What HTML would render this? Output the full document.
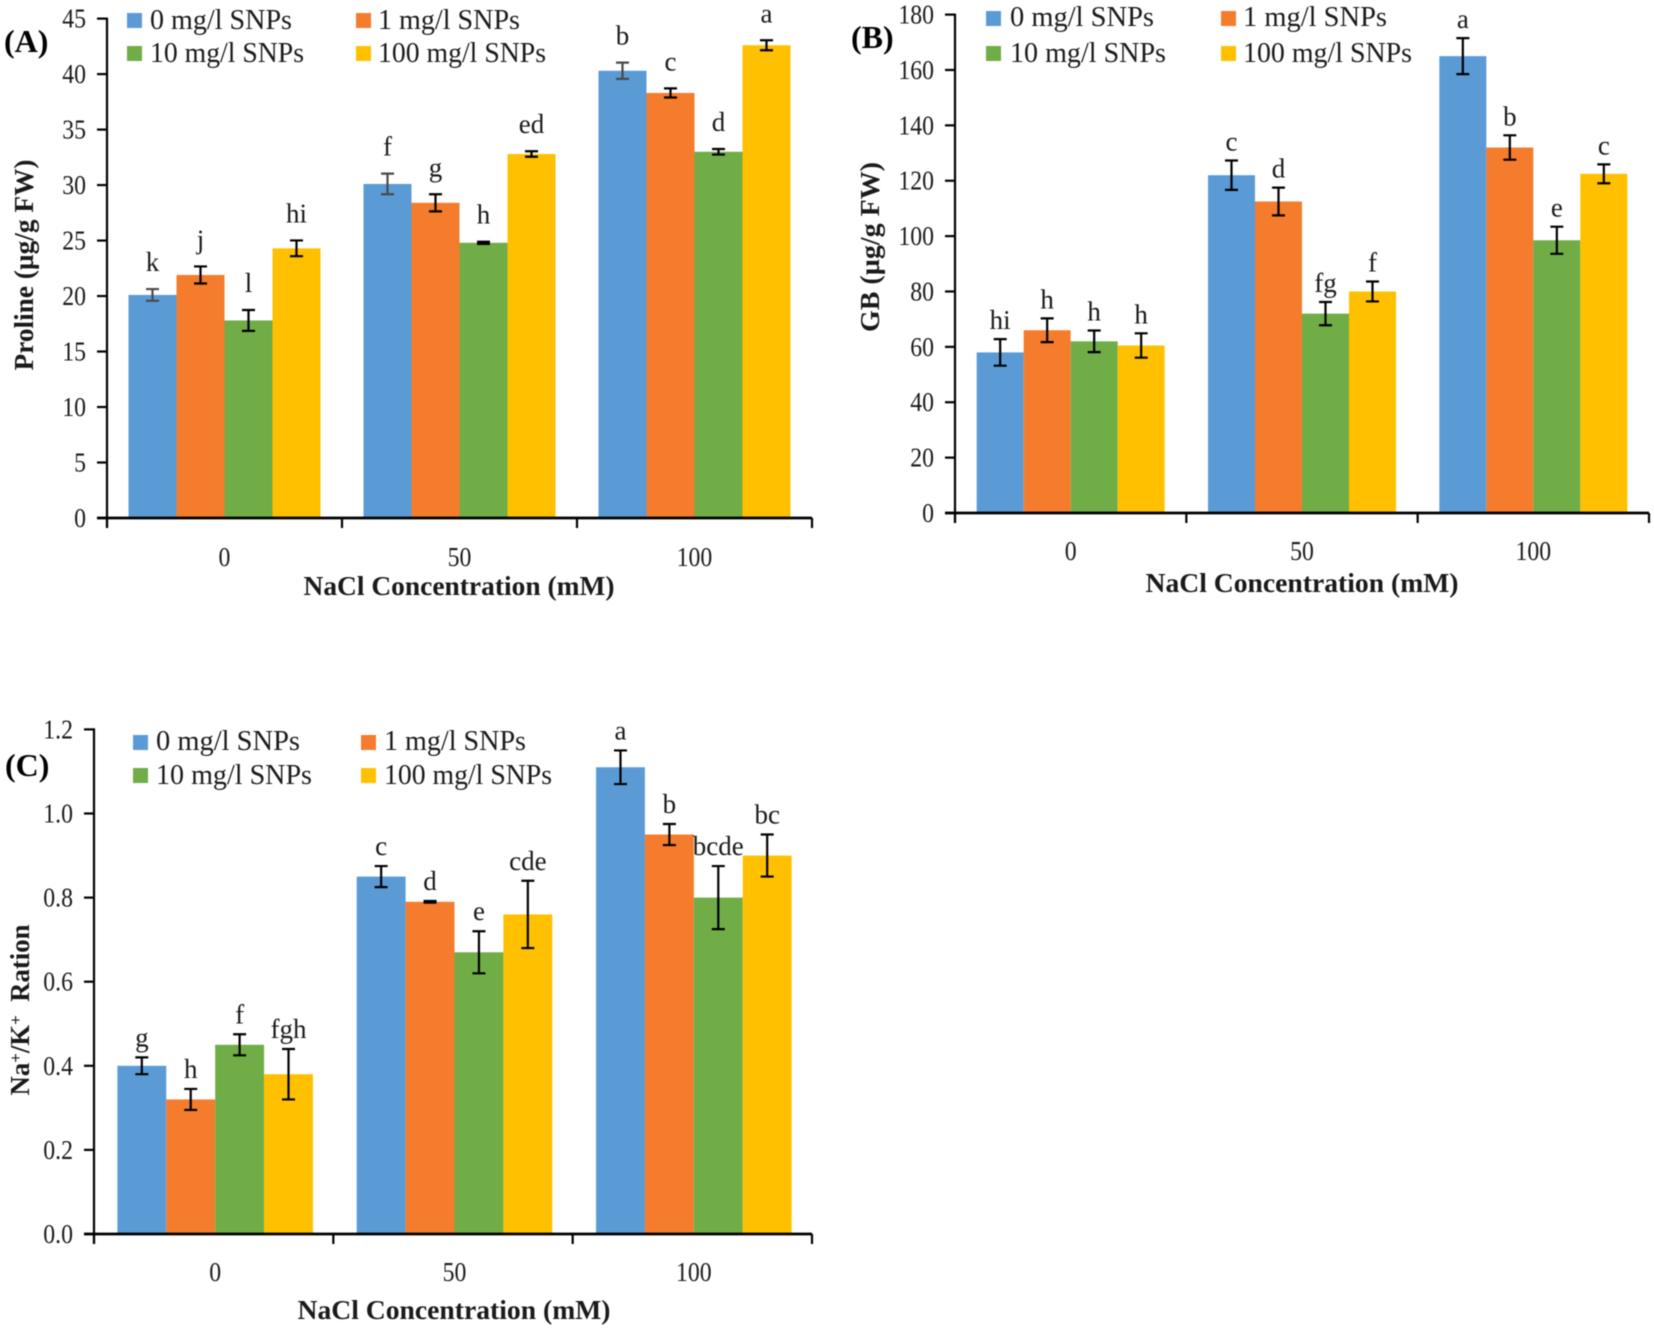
<!DOCTYPE html>
<html lang="en">
<head>
<meta charset="utf-8">
<title>Proline, GB and Na+/K+ ratio charts</title>
<style>
html,body{margin:0;padding:0;background:#fff;}
svg{display:block;filter:blur(0.45px);}
text{font-family:"Liberation Serif",serif;fill:#1a1a1a;}
.legend{font-size:29px;}
.title{font-size:27px;font-weight:bold;}
.panel{font-size:32px;font-weight:bold;fill:#000;}
.tick{font-size:27px;}
.letter{font-size:27px;}
</style>
</head>
<body>
<svg id="chart" xmlns="http://www.w3.org/2000/svg" width="1654" height="1332" viewBox="0 0 1654 1332">
  <g id="panel-a">
    <text class="panel" x="4" y="52">(A)</text>
    <text class="title" x="459" y="595" text-anchor="middle" textLength="311" lengthAdjust="spacingAndGlyphs">NaCl Concentration (mM)</text>
    <text class="title" transform="translate(33 265) rotate(-90)" text-anchor="middle" textLength="211" lengthAdjust="spacingAndGlyphs">Proline (µg/g FW)</text>
    <g>
      <rect x="127" y="13" width="15" height="15" fill="#5B9BD5"/>
      <text class="legend" x="150" y="29" textLength="142" lengthAdjust="spacingAndGlyphs">0 mg/l SNPs</text>
      <rect x="356" y="13" width="15" height="15" fill="#F47C2C"/>
      <text class="legend" x="378" y="29" textLength="142" lengthAdjust="spacingAndGlyphs">1 mg/l SNPs</text>
      <rect x="127" y="46" width="15" height="15" fill="#70AD47"/>
      <text class="legend" x="150" y="62" textLength="154" lengthAdjust="spacingAndGlyphs">10 mg/l SNPs</text>
      <rect x="356" y="46" width="15" height="15" fill="#FFC000"/>
      <text class="legend" x="378" y="62" textLength="168" lengthAdjust="spacingAndGlyphs">100 mg/l SNPs</text>
    </g>
  </g>
  <g id="panel-b">
    <text class="panel" x="851" y="48">(B)</text>
    <text class="title" x="1302" y="592" text-anchor="middle" textLength="313" lengthAdjust="spacingAndGlyphs">NaCl Concentration (mM)</text>
    <text class="title" transform="translate(879 247) rotate(-90)" text-anchor="middle" textLength="170" lengthAdjust="spacingAndGlyphs">GB (µg/g FW)</text>
    <g>
      <rect x="986" y="11" width="15" height="15" fill="#5B9BD5"/>
      <text class="legend" x="1010" y="26" textLength="144" lengthAdjust="spacingAndGlyphs">0 mg/l SNPs</text>
      <rect x="1221" y="11" width="15" height="15" fill="#F47C2C"/>
      <text class="legend" x="1243" y="26" textLength="144" lengthAdjust="spacingAndGlyphs">1 mg/l SNPs</text>
      <rect x="986" y="46" width="15" height="15" fill="#70AD47"/>
      <text class="legend" x="1010" y="62" textLength="156" lengthAdjust="spacingAndGlyphs">10 mg/l SNPs</text>
      <rect x="1221" y="46" width="15" height="15" fill="#FFC000"/>
      <text class="legend" x="1243" y="62" textLength="169" lengthAdjust="spacingAndGlyphs">100 mg/l SNPs</text>
    </g>
  </g>
  <g id="panel-c">
    <text class="panel" x="5" y="776">(C)</text>
    <text class="title" x="454" y="1319" text-anchor="middle" textLength="313" lengthAdjust="spacingAndGlyphs">NaCl Concentration (mM)</text>
    <text class="title" transform="translate(29 1010) rotate(-90)" text-anchor="middle" textLength="171" lengthAdjust="spacingAndGlyphs">Na<tspan dy="-8" font-size="17">+</tspan><tspan dy="8">/K</tspan><tspan dy="-8" font-size="17">+</tspan><tspan dy="8" xml:space="preserve">  Ration</tspan></text>
    <g>
      <rect x="133" y="735" width="15" height="15" fill="#5B9BD5"/>
      <text class="legend" x="156" y="750" textLength="144" lengthAdjust="spacingAndGlyphs">0 mg/l SNPs</text>
      <rect x="361" y="735" width="15" height="15" fill="#F47C2C"/>
      <text class="legend" x="384" y="750" textLength="142" lengthAdjust="spacingAndGlyphs">1 mg/l SNPs</text>
      <rect x="133" y="768" width="15" height="15" fill="#70AD47"/>
      <text class="legend" x="156" y="784" textLength="156" lengthAdjust="spacingAndGlyphs">10 mg/l SNPs</text>
      <rect x="361" y="768" width="15" height="15" fill="#FFC000"/>
      <text class="legend" x="384" y="784" textLength="168" lengthAdjust="spacingAndGlyphs">100 mg/l SNPs</text>
    </g>
  </g>
</svg>
<script>
var categories = ['0', '50', '100'];
var seriesColors = ['#5B9BD5', '#F47C2C', '#70AD47', '#FFC000'];

var prolineBlue = [20.1, 30.1, 40.3];
var prolineOrange = [21.9, 28.4, 38.3];
var prolineGreen = [17.8, 24.8, 33.0];
var prolineYellow = [24.3, 32.8, 42.6];
var prolineBlueErr = [0.53, 0.93, 0.73];
var prolineOrangeErr = [0.77, 0.77, 0.41];
var prolineGreenErr = [0.94, 0.1, 0.25];
var prolineYellowErr = [0.71, 0.25, 0.45];
var prolineLetters = [['k', 'f', 'b'], ['j', 'g', 'c'], ['l', 'h', 'd'], ['hi', 'ed', 'a']];
var prolineTicks = ['0', '5', '10', '15', '20', '25', '30', '35', '40', '45'];

var gbBlue = [58, 122, 165];
var gbOrange = [66, 112.5, 132];
var gbGreen = [62, 72, 98.5];
var gbYellow = [60.5, 80, 122.5];
var gbBlueErr = [4.8, 5.3, 6.5];
var gbOrangeErr = [4.3, 5.0, 4.4];
var gbGreenErr = [3.9, 4.2, 4.9];
var gbYellowErr = [4.4, 3.6, 3.4];
var gbLetters = [['hi', 'c', 'a'], ['h', 'd', 'b'], ['h', 'fg', 'e'], ['h', 'f', 'c']];
var gbTicks = ['0', '20', '40', '60', '80', '100', '120', '140', '160', '180'];

var ratioBlue = [0.40, 0.85, 1.11];
var ratioOrange = [0.32, 0.79, 0.95];
var ratioGreen = [0.45, 0.67, 0.80];
var ratioYellow = [0.38, 0.76, 0.90];
var ratioBlueErr = [0.02, 0.025, 0.04];
var ratioOrangeErr = [0.025, 0.002, 0.025];
var ratioGreenErr = [0.025, 0.05, 0.075];
var ratioYellowErr = [0.06, 0.08, 0.05];
var ratioLetters = [['g', 'c', 'a'], ['h', 'd', 'b'], ['f', 'e', 'bcde'], ['fgh', 'cde', 'bc']];
var ratioTicks = ['0.0', '0.2', '0.4', '0.6', '0.8', '1.0', '1.2'];

var NS = 'http://www.w3.org/2000/svg';

function make(tag, attrs, parent) {
  var el = document.createElementNS(NS, tag);
  for (var k in attrs) { el.setAttribute(k, attrs[k]); }
  parent.appendChild(el);
  return el;
}

function squeeze(el, factor) {
  el.setAttribute('textLength', el.getComputedTextLength() * factor);
  el.setAttribute('lengthAdjust', 'spacingAndGlyphs');
}

function drawPanel(root, layout, series, errors, letters, ticks) {
  var yMin = Number(ticks[0]);
  var yMax = Number(ticks[ticks.length - 1]);
  function yScale(v) {
    return layout.y0 + (v - yMin) / (yMax - yMin) * (layout.y1 - layout.y0);
  }
  var catWidth = (layout.x1 - layout.x0) / categories.length;
  var groupWidth = layout.barWidth * series.length;
  function xScale(c, s) {
    return layout.x0 + layout.barShift + catWidth * (c + 0.5) - groupWidth / 2 + layout.barWidth * s;
  }

  series.forEach(function (values, s) {
    values.forEach(function (v, c) {
      var bar = make('rect', {
        x: xScale(c, s), y: yScale(v), width: layout.barWidth, height: layout.y0 - yScale(v), fill: seriesColors[s]
      }, root);
      
      

      var cx = xScale(c, s) + layout.barWidth / 2;
      var top = yScale(v + errors[s][c]);
      var bottom = yScale(v - errors[s][c]);
      var errColor = (layout.grayFirst && s === 0) ? '#4a4a4a' : '#000';
      var err = make('path', {
        d: 'M' + (cx - 6.5) + ' ' + top + 'H' + (cx + 6.5) + 'M' + cx + ' ' + top + 'V' + bottom + 'M' + (cx - 6.5) + ' ' + bottom + 'H' + (cx + 6.5),
        stroke: errColor, 'stroke-width': 2.2, fill: 'none'
      }, root);
      
      

      var letter = make('text', {
        x: cx, y: top - layout.letterGap, 'text-anchor': 'middle', 'class': 'letter'
      }, root);
      letter.textContent = letters[s][c];
      
      
    });
  });

  var yAxis = make('line', { x1: layout.x0, x2: layout.x0, y1: layout.y1 - 1, y2: layout.y0 + 10, stroke: '#000', 'stroke-width': 2.2 }, root);
  
  

  var xAxis = make('line', { x1: layout.x0 - 10, x2: layout.x1, y1: layout.y0, y2: layout.y0, stroke: '#000', 'stroke-width': 2.8 }, root);
  
  

  ticks.forEach(function (t) {
    var y = yScale(Number(t));
    var mark = make('line', { x1: layout.x0 - 10, x2: layout.x0, y1: y, y2: y, stroke: '#000', 'stroke-width': 2.2 }, root);
    
    

    var label = make('text', { x: layout.x0 - 21, y: y + 9, 'text-anchor': 'end', 'class': 'tick' }, root);
    label.textContent = t;
    squeeze(label, 0.88);
    
    
  });

  for (var i = 0; i <= categories.length; i++) {
    var bx = layout.x0 + catWidth * i;
    var sep = make('line', { x1: bx, x2: bx, y1: layout.y0, y2: layout.y0 + 10, stroke: '#000', 'stroke-width': 2.2 }, root);
    
    
  }

  categories.forEach(function (name, c) {
    var label = make('text', { x: layout.x0 + layout.barShift + catWidth * (c + 0.5), y: layout.catBaseline, 'text-anchor': 'middle', 'class': 'tick' }, root);
    label.textContent = name;
    squeeze(label, 0.88);
    
    
  });
}

drawPanel(document.getElementById('panel-a'),
  { x0: 107, x1: 812, y0: 518, y1: 18.6, barWidth: 48, barShift: 0, letterGap: 18, catBaseline: 566, grayFirst: true },
  [prolineBlue, prolineOrange, prolineGreen, prolineYellow],
  [prolineBlueErr, prolineOrangeErr, prolineGreenErr, prolineYellowErr],
  prolineLetters, prolineTicks);

drawPanel(document.getElementById('panel-b'),
  { x0: 955, x1: 1649, y0: 513, y1: 14.6, barWidth: 47, barShift: 0, letterGap: 10, catBaseline: 560, grayFirst: false },
  [gbBlue, gbOrange, gbGreen, gbYellow],
  [gbBlueErr, gbOrangeErr, gbGreenErr, gbYellowErr],
  gbLetters, gbTicks);

drawPanel(document.getElementById('panel-c'),
  { x0: 94, x1: 812, y0: 1234, y1: 729.4, barWidth: 48.9, barShift: 1.5, letterGap: 11, catBaseline: 1281, grayFirst: false },
  [ratioBlue, ratioOrange, ratioGreen, ratioYellow],
  [ratioBlueErr, ratioOrangeErr, ratioGreenErr, ratioYellowErr],
  ratioLetters, ratioTicks);
</script>
</body>
</html>
